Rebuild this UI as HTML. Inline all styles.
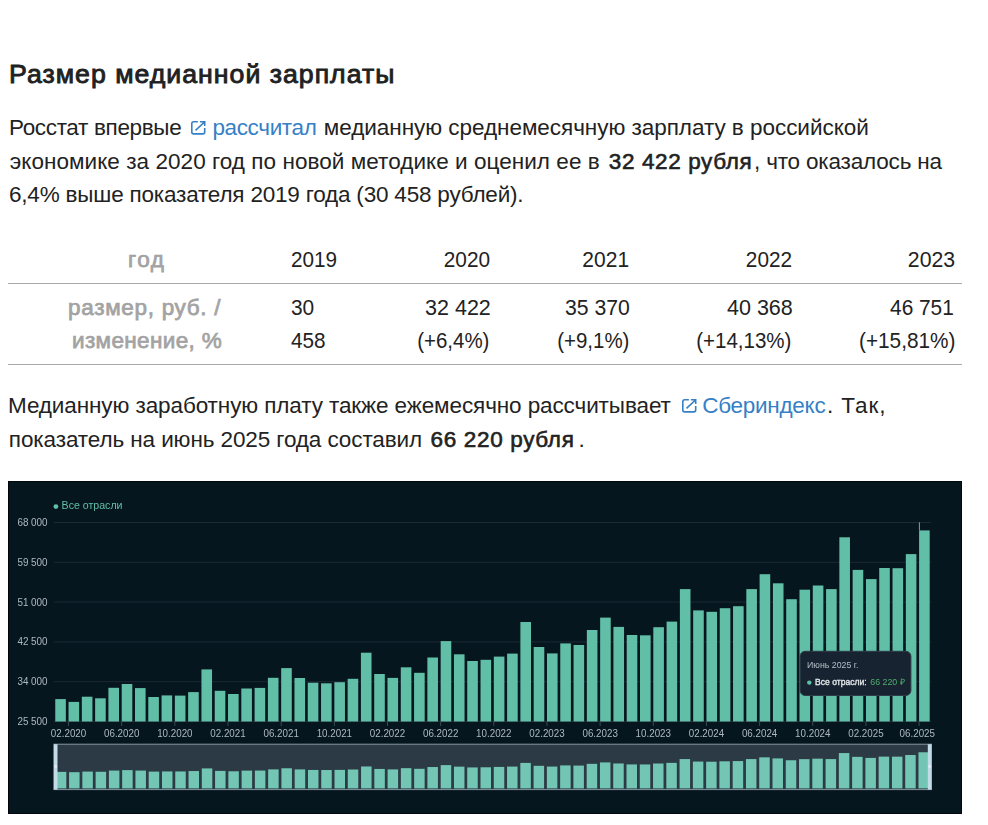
<!DOCTYPE html>
<html><head><meta charset="utf-8"><title>Размер медианной зарплаты</title>
<style>
html,body{margin:0;padding:0;background:#fff;}
body{width:988px;height:825px;position:relative;overflow:hidden;font-family:"Liberation Sans", sans-serif;}
.ln{position:absolute;white-space:nowrap;}
.a{color:#3580c6;}
.ext{display:inline-block;vertical-align:-0.3px;margin-right:6px;}
b{font-weight:normal;-webkit-text-stroke:0.6px #222;}
</style></head><body>
<div id="h" class="ln" style="left:9.00px;top:58.23px;font-size:26.7px;line-height:32.04px;font-weight:normal;color:#202122;letter-spacing:1.0px;-webkit-text-stroke:0.9px #202122;">Размер медианной зарплаты</div>
<div id="p1a" class="ln" style="left:9.00px;top:113.70px;font-size:22.5px;line-height:27.00px;font-weight:normal;color:#222;letter-spacing:-0.3421px;">Росстат впервые</div>
<div style="position:absolute;left:191.2px;top:121.1px;width:15px;height:14px;color:#3580c6"><svg style="display:block" width="15" height="14" viewBox="0 0 15 14"><path d="M6.9 0.8H2.6Q0.8 0.8 0.8 2.6V11.1Q0.8 12.9 2.6 12.9H11.9Q13.7 12.9 13.7 11.1V7.0M8.9 0.8H13.7V5.0M13.5 1.0L4.5 9.4" fill="none" stroke="currentColor" stroke-width="1.6"/></svg></div>
<div id="p1b" class="ln" style="left:212.40px;top:113.70px;font-size:22.5px;line-height:27.00px;font-weight:normal;color:#3580c6;letter-spacing:-0.35px;">рассчитал</div>
<div id="p1c" class="ln" style="left:323.80px;top:113.70px;font-size:22.5px;line-height:27.00px;font-weight:normal;color:#222;letter-spacing:-0.0404px;">медианную среднемесячную зарплату в российской</div>
<div id="p2a" class="ln" style="left:9.80px;top:148.00px;font-size:22.5px;line-height:27.00px;font-weight:normal;color:#222;letter-spacing:0.0503px;">экономике за 2020 год по новой методике и оценил ее в</div>
<div id="p2b" class="ln" style="left:608.80px;top:148.00px;font-size:22.5px;line-height:27.00px;font-weight:normal;color:#222;letter-spacing:0.6175px;"><b>32 422 рубля</b></div>
<div id="p2c" class="ln" style="left:754.00px;top:148.00px;font-size:22.5px;line-height:27.00px;font-weight:normal;color:#222;letter-spacing:-0.1765px;">, что оказалось на</div>
<div id="p3" class="ln" style="left:9.00px;top:180.70px;font-size:22.5px;line-height:27.00px;font-weight:normal;color:#222;letter-spacing:-0.1956px;">6,4% выше показателя 2019 года (30 458 рублей).</div>
<div id="t_god" class="ln" style="left:128.00px;top:245.70px;font-size:22.5px;line-height:27.00px;font-weight:normal;color:#a3a3a3;letter-spacing:1.5px;-webkit-text-stroke:0.75px #a3a3a3;">год</div>
<div id="t_2019" class="ln" style="left:291.00px;top:245.70px;font-size:22.5px;line-height:27.00px;font-weight:normal;color:#222;letter-spacing:0px;transform:scaleX(0.9188);transform-origin:0 50%;">2019</div>
<div id="t_2020" class="ln" style="right:498.10px;top:245.70px;font-size:22.5px;line-height:27.00px;font-weight:normal;color:#222;letter-spacing:0px;transform:scaleX(0.9248);transform-origin:100% 50%;">2020</div>
<div id="t_2021" class="ln" style="right:358.90px;top:245.70px;font-size:22.5px;line-height:27.00px;font-weight:normal;color:#222;letter-spacing:0px;transform:scaleX(0.9327);transform-origin:100% 50%;">2021</div>
<div id="t_2022" class="ln" style="right:195.50px;top:245.70px;font-size:22.5px;line-height:27.00px;font-weight:normal;color:#222;letter-spacing:0px;transform:scaleX(0.9228);transform-origin:100% 50%;">2022</div>
<div id="t_2023" class="ln" style="right:32.50px;top:245.70px;font-size:22.5px;line-height:27.00px;font-weight:normal;color:#222;letter-spacing:0px;transform:scaleX(0.9433);transform-origin:100% 50%;">2023</div>
<div style="position:absolute;left:8px;top:283px;width:954px;height:1px;background:#a8a8a8"></div>
<div id="t_l1" class="ln" style="left:68.00px;top:293.70px;font-size:22.5px;line-height:27.00px;font-weight:normal;color:#a3a3a3;letter-spacing:0.6926px;-webkit-text-stroke:0.75px #a3a3a3;">размер, руб. /</div>
<div id="t_l2" class="ln" style="left:72.00px;top:326.70px;font-size:22.5px;line-height:27.00px;font-weight:normal;color:#a3a3a3;letter-spacing:0.3629px;-webkit-text-stroke:0.75px #a3a3a3;">изменение, %</div>
<div id="t_a1" class="ln" style="left:291.00px;top:293.70px;font-size:22.5px;line-height:27.00px;font-weight:normal;color:#222;letter-spacing:0px;transform:scaleX(0.9277);transform-origin:0 50%;">30</div>
<div id="t_a2" class="ln" style="left:291.00px;top:326.70px;font-size:22.5px;line-height:27.00px;font-weight:normal;color:#222;letter-spacing:0px;transform:scaleX(0.9195);transform-origin:0 50%;">458</div>
<div id="c20a" class="ln" style="right:497.50px;top:293.70px;font-size:22.5px;line-height:27.00px;font-weight:normal;color:#222;letter-spacing:0px;transform:scaleX(0.9562);transform-origin:100% 50%;">32 422</div>
<div id="c20b" class="ln" style="right:498.50px;top:326.70px;font-size:22.5px;line-height:27.00px;font-weight:normal;color:#222;letter-spacing:0px;transform:scaleX(0.9096);transform-origin:100% 50%;">(+6,4%)</div>
<div id="c21a" class="ln" style="right:358.50px;top:293.70px;font-size:22.5px;line-height:27.00px;font-weight:normal;color:#222;letter-spacing:0px;transform:scaleX(0.9425);transform-origin:100% 50%;">35 370</div>
<div id="c21b" class="ln" style="right:358.50px;top:326.70px;font-size:22.5px;line-height:27.00px;font-weight:normal;color:#222;letter-spacing:0px;transform:scaleX(0.9101);transform-origin:100% 50%;">(+9,1%)</div>
<div id="c22a" class="ln" style="right:195.50px;top:293.70px;font-size:22.5px;line-height:27.00px;font-weight:normal;color:#222;letter-spacing:0px;transform:scaleX(0.9572);transform-origin:100% 50%;">40 368</div>
<div id="c22b" class="ln" style="right:196.50px;top:326.70px;font-size:22.5px;line-height:27.00px;font-weight:normal;color:#222;letter-spacing:0px;transform:scaleX(0.9122);transform-origin:100% 50%;">(+14,13%)</div>
<div id="c23a" class="ln" style="right:34.50px;top:293.70px;font-size:22.5px;line-height:27.00px;font-weight:normal;color:#222;letter-spacing:0px;transform:scaleX(0.9268);transform-origin:100% 50%;">46 751</div>
<div id="c23b" class="ln" style="right:32.50px;top:326.70px;font-size:22.5px;line-height:27.00px;font-weight:normal;color:#222;letter-spacing:0px;transform:scaleX(0.9235);transform-origin:100% 50%;">(+15,81%)</div>
<div style="position:absolute;left:8px;top:364px;width:954px;height:1px;background:#a8a8a8"></div>
<div id="q1a" class="ln" style="left:8.00px;top:391.90px;font-size:22.5px;line-height:27.00px;font-weight:normal;color:#222;letter-spacing:-0.1011px;">Медианную заработную плату также ежемесячно рассчитывает</div>
<div style="position:absolute;left:682.2px;top:399.1px;width:15px;height:14px;color:#3580c6"><svg style="display:block" width="15" height="14" viewBox="0 0 15 14"><path d="M6.9 0.8H2.6Q0.8 0.8 0.8 2.6V11.1Q0.8 12.9 2.6 12.9H11.9Q13.7 12.9 13.7 11.1V7.0M8.9 0.8H13.7V5.0M13.5 1.0L4.5 9.4" fill="none" stroke="currentColor" stroke-width="1.6"/></svg></div>
<div id="q1b" class="ln" style="left:702.20px;top:391.90px;font-size:22.5px;line-height:27.00px;font-weight:normal;color:#3580c6;letter-spacing:-0.2654px;">Сбериндекс</div>
<div id="q1c" class="ln" style="left:827.00px;top:391.90px;font-size:22.5px;line-height:27.00px;font-weight:normal;color:#222;letter-spacing:0.92px;">. Так,</div>
<div id="q2a" class="ln" style="left:8.80px;top:425.50px;font-size:22.5px;line-height:27.00px;font-weight:normal;color:#222;letter-spacing:-0.0995px;">показатель на июнь 2025 года составил</div>
<div id="q2b" class="ln" style="left:430.60px;top:425.50px;font-size:22.5px;line-height:27.00px;font-weight:normal;color:#222;letter-spacing:0.6541px;"><b>66 220 рубля</b></div>
<div id="q2c" class="ln" style="left:578.60px;top:425.50px;font-size:22.5px;line-height:27.00px;font-weight:normal;color:#222;letter-spacing:0px;">.</div>
<svg width="954" height="333" viewBox="8 481 954 333" style="position:absolute;left:8px;top:481px;display:block;will-change:transform">
<rect x="8" y="481" width="954" height="333" fill="#02070e"/>
<rect x="9" y="482" width="952" height="331" fill="#05161e"/>
<rect x="54" y="721.00" width="877" height="1" fill="#1c2a35"/>
<rect x="54" y="681.20" width="877" height="1" fill="#1c2a35"/>
<rect x="54" y="641.40" width="877" height="1" fill="#1c2a35"/>
<rect x="54" y="601.60" width="877" height="1" fill="#1c2a35"/>
<rect x="54" y="561.80" width="877" height="1" fill="#1c2a35"/>
<rect x="54" y="522.00" width="877" height="1" fill="#1c2a35"/>
<text x="47.6" y="725.00" text-anchor="end" font-family='"Liberation Sans", sans-serif' font-size="10.4" fill="#aeb8c1" textLength="30.2" lengthAdjust="spacingAndGlyphs">25 500</text>
<text x="47.6" y="685.20" text-anchor="end" font-family='"Liberation Sans", sans-serif' font-size="10.4" fill="#aeb8c1" textLength="30.2" lengthAdjust="spacingAndGlyphs">34 000</text>
<text x="47.6" y="645.40" text-anchor="end" font-family='"Liberation Sans", sans-serif' font-size="10.4" fill="#aeb8c1" textLength="30.2" lengthAdjust="spacingAndGlyphs">42 500</text>
<text x="47.6" y="605.60" text-anchor="end" font-family='"Liberation Sans", sans-serif' font-size="10.4" fill="#aeb8c1" textLength="30.2" lengthAdjust="spacingAndGlyphs">51 000</text>
<text x="47.6" y="565.80" text-anchor="end" font-family='"Liberation Sans", sans-serif' font-size="10.4" fill="#aeb8c1" textLength="30.2" lengthAdjust="spacingAndGlyphs">59 500</text>
<text x="47.6" y="526.00" text-anchor="end" font-family='"Liberation Sans", sans-serif' font-size="10.4" fill="#aeb8c1" textLength="30.2" lengthAdjust="spacingAndGlyphs">68 000</text>
<rect x="55.25" y="699.10" width="10.6" height="22.40" fill="#62bfa7"/>
<rect x="68.54" y="701.90" width="10.6" height="19.60" fill="#62bfa7"/>
<rect x="81.83" y="696.70" width="10.6" height="24.80" fill="#62bfa7"/>
<rect x="95.12" y="698.30" width="10.6" height="23.20" fill="#62bfa7"/>
<rect x="108.41" y="687.80" width="10.6" height="33.70" fill="#62bfa7"/>
<rect x="121.70" y="684.00" width="10.6" height="37.50" fill="#62bfa7"/>
<rect x="134.99" y="688.10" width="10.6" height="33.40" fill="#62bfa7"/>
<rect x="148.28" y="697.00" width="10.6" height="24.50" fill="#62bfa7"/>
<rect x="161.57" y="695.40" width="10.6" height="26.10" fill="#62bfa7"/>
<rect x="174.86" y="695.60" width="10.6" height="25.90" fill="#62bfa7"/>
<rect x="188.15" y="692.10" width="10.6" height="29.40" fill="#62bfa7"/>
<rect x="201.44" y="669.40" width="10.6" height="52.10" fill="#62bfa7"/>
<rect x="214.73" y="690.80" width="10.6" height="30.70" fill="#62bfa7"/>
<rect x="228.02" y="694.00" width="10.6" height="27.50" fill="#62bfa7"/>
<rect x="241.31" y="688.50" width="10.6" height="33.00" fill="#62bfa7"/>
<rect x="254.60" y="687.90" width="10.6" height="33.60" fill="#62bfa7"/>
<rect x="267.89" y="677.80" width="10.6" height="43.70" fill="#62bfa7"/>
<rect x="281.18" y="668.10" width="10.6" height="53.40" fill="#62bfa7"/>
<rect x="294.47" y="678.00" width="10.6" height="43.50" fill="#62bfa7"/>
<rect x="307.76" y="682.70" width="10.6" height="38.80" fill="#62bfa7"/>
<rect x="321.05" y="683.30" width="10.6" height="38.20" fill="#62bfa7"/>
<rect x="334.34" y="682.20" width="10.6" height="39.30" fill="#62bfa7"/>
<rect x="347.63" y="678.80" width="10.6" height="42.70" fill="#62bfa7"/>
<rect x="360.92" y="652.70" width="10.6" height="68.80" fill="#62bfa7"/>
<rect x="374.21" y="674.00" width="10.6" height="47.50" fill="#62bfa7"/>
<rect x="387.50" y="677.90" width="10.6" height="43.60" fill="#62bfa7"/>
<rect x="400.79" y="667.30" width="10.6" height="54.20" fill="#62bfa7"/>
<rect x="414.08" y="672.80" width="10.6" height="48.70" fill="#62bfa7"/>
<rect x="427.37" y="657.50" width="10.6" height="64.00" fill="#62bfa7"/>
<rect x="440.66" y="641.10" width="10.6" height="80.40" fill="#62bfa7"/>
<rect x="453.95" y="654.30" width="10.6" height="67.20" fill="#62bfa7"/>
<rect x="467.24" y="661.00" width="10.6" height="60.50" fill="#62bfa7"/>
<rect x="480.53" y="659.80" width="10.6" height="61.70" fill="#62bfa7"/>
<rect x="493.82" y="656.60" width="10.6" height="64.90" fill="#62bfa7"/>
<rect x="507.11" y="653.60" width="10.6" height="67.90" fill="#62bfa7"/>
<rect x="520.40" y="622.00" width="10.6" height="99.50" fill="#62bfa7"/>
<rect x="533.69" y="647.00" width="10.6" height="74.50" fill="#62bfa7"/>
<rect x="546.98" y="653.40" width="10.6" height="68.10" fill="#62bfa7"/>
<rect x="560.27" y="643.40" width="10.6" height="78.10" fill="#62bfa7"/>
<rect x="573.56" y="645.00" width="10.6" height="76.50" fill="#62bfa7"/>
<rect x="586.85" y="630.00" width="10.6" height="91.50" fill="#62bfa7"/>
<rect x="600.14" y="617.60" width="10.6" height="103.90" fill="#62bfa7"/>
<rect x="613.43" y="626.90" width="10.6" height="94.60" fill="#62bfa7"/>
<rect x="626.72" y="635.00" width="10.6" height="86.50" fill="#62bfa7"/>
<rect x="640.01" y="635.30" width="10.6" height="86.20" fill="#62bfa7"/>
<rect x="653.30" y="627.20" width="10.6" height="94.30" fill="#62bfa7"/>
<rect x="666.59" y="621.60" width="10.6" height="99.90" fill="#62bfa7"/>
<rect x="679.88" y="589.10" width="10.6" height="132.40" fill="#62bfa7"/>
<rect x="693.17" y="610.40" width="10.6" height="111.10" fill="#62bfa7"/>
<rect x="706.46" y="611.80" width="10.6" height="109.70" fill="#62bfa7"/>
<rect x="719.75" y="608.20" width="10.6" height="113.30" fill="#62bfa7"/>
<rect x="733.04" y="606.20" width="10.6" height="115.30" fill="#62bfa7"/>
<rect x="746.33" y="589.10" width="10.6" height="132.40" fill="#62bfa7"/>
<rect x="759.62" y="574.20" width="10.6" height="147.30" fill="#62bfa7"/>
<rect x="772.91" y="583.30" width="10.6" height="138.20" fill="#62bfa7"/>
<rect x="786.20" y="599.20" width="10.6" height="122.30" fill="#62bfa7"/>
<rect x="799.49" y="589.70" width="10.6" height="131.80" fill="#62bfa7"/>
<rect x="812.78" y="585.50" width="10.6" height="136.00" fill="#62bfa7"/>
<rect x="826.07" y="589.10" width="10.6" height="132.40" fill="#62bfa7"/>
<rect x="839.36" y="537.30" width="10.6" height="184.20" fill="#62bfa7"/>
<rect x="852.65" y="569.90" width="10.6" height="151.60" fill="#62bfa7"/>
<rect x="865.94" y="579.10" width="10.6" height="142.40" fill="#62bfa7"/>
<rect x="879.23" y="568.00" width="10.6" height="153.50" fill="#62bfa7"/>
<rect x="892.52" y="568.20" width="10.6" height="153.30" fill="#62bfa7"/>
<rect x="905.81" y="554.10" width="10.6" height="167.40" fill="#62bfa7"/>
<rect x="919.10" y="530.40" width="10.6" height="191.10" fill="#62bfa7"/>
<rect x="68.04" y="721.50" width="1" height="4.5" fill="#3a4a56"/>
<text x="68.54" y="736.8" text-anchor="middle" font-family='"Liberation Sans", sans-serif' font-size="10" fill="#aeb8c1" textLength="35.4" lengthAdjust="spacingAndGlyphs">02.2020</text>
<rect x="121.20" y="721.50" width="1" height="4.5" fill="#3a4a56"/>
<text x="121.70" y="736.8" text-anchor="middle" font-family='"Liberation Sans", sans-serif' font-size="10" fill="#aeb8c1" textLength="35.4" lengthAdjust="spacingAndGlyphs">06.2020</text>
<rect x="174.36" y="721.50" width="1" height="4.5" fill="#3a4a56"/>
<text x="174.86" y="736.8" text-anchor="middle" font-family='"Liberation Sans", sans-serif' font-size="10" fill="#aeb8c1" textLength="35.4" lengthAdjust="spacingAndGlyphs">10.2020</text>
<rect x="227.52" y="721.50" width="1" height="4.5" fill="#3a4a56"/>
<text x="228.02" y="736.8" text-anchor="middle" font-family='"Liberation Sans", sans-serif' font-size="10" fill="#aeb8c1" textLength="35.4" lengthAdjust="spacingAndGlyphs">02.2021</text>
<rect x="280.68" y="721.50" width="1" height="4.5" fill="#3a4a56"/>
<text x="281.18" y="736.8" text-anchor="middle" font-family='"Liberation Sans", sans-serif' font-size="10" fill="#aeb8c1" textLength="35.4" lengthAdjust="spacingAndGlyphs">06.2021</text>
<rect x="333.84" y="721.50" width="1" height="4.5" fill="#3a4a56"/>
<text x="334.34" y="736.8" text-anchor="middle" font-family='"Liberation Sans", sans-serif' font-size="10" fill="#aeb8c1" textLength="35.4" lengthAdjust="spacingAndGlyphs">10.2021</text>
<rect x="387.00" y="721.50" width="1" height="4.5" fill="#3a4a56"/>
<text x="387.50" y="736.8" text-anchor="middle" font-family='"Liberation Sans", sans-serif' font-size="10" fill="#aeb8c1" textLength="35.4" lengthAdjust="spacingAndGlyphs">02.2022</text>
<rect x="440.16" y="721.50" width="1" height="4.5" fill="#3a4a56"/>
<text x="440.66" y="736.8" text-anchor="middle" font-family='"Liberation Sans", sans-serif' font-size="10" fill="#aeb8c1" textLength="35.4" lengthAdjust="spacingAndGlyphs">06.2022</text>
<rect x="493.32" y="721.50" width="1" height="4.5" fill="#3a4a56"/>
<text x="493.82" y="736.8" text-anchor="middle" font-family='"Liberation Sans", sans-serif' font-size="10" fill="#aeb8c1" textLength="35.4" lengthAdjust="spacingAndGlyphs">10.2022</text>
<rect x="546.48" y="721.50" width="1" height="4.5" fill="#3a4a56"/>
<text x="546.98" y="736.8" text-anchor="middle" font-family='"Liberation Sans", sans-serif' font-size="10" fill="#aeb8c1" textLength="35.4" lengthAdjust="spacingAndGlyphs">02.2023</text>
<rect x="599.64" y="721.50" width="1" height="4.5" fill="#3a4a56"/>
<text x="600.14" y="736.8" text-anchor="middle" font-family='"Liberation Sans", sans-serif' font-size="10" fill="#aeb8c1" textLength="35.4" lengthAdjust="spacingAndGlyphs">06.2023</text>
<rect x="652.80" y="721.50" width="1" height="4.5" fill="#3a4a56"/>
<text x="653.30" y="736.8" text-anchor="middle" font-family='"Liberation Sans", sans-serif' font-size="10" fill="#aeb8c1" textLength="35.4" lengthAdjust="spacingAndGlyphs">10.2023</text>
<rect x="705.96" y="721.50" width="1" height="4.5" fill="#3a4a56"/>
<text x="706.46" y="736.8" text-anchor="middle" font-family='"Liberation Sans", sans-serif' font-size="10" fill="#aeb8c1" textLength="35.4" lengthAdjust="spacingAndGlyphs">02.2024</text>
<rect x="759.12" y="721.50" width="1" height="4.5" fill="#3a4a56"/>
<text x="759.62" y="736.8" text-anchor="middle" font-family='"Liberation Sans", sans-serif' font-size="10" fill="#aeb8c1" textLength="35.4" lengthAdjust="spacingAndGlyphs">06.2024</text>
<rect x="812.28" y="721.50" width="1" height="4.5" fill="#3a4a56"/>
<text x="812.78" y="736.8" text-anchor="middle" font-family='"Liberation Sans", sans-serif' font-size="10" fill="#aeb8c1" textLength="35.4" lengthAdjust="spacingAndGlyphs">10.2024</text>
<rect x="865.44" y="721.50" width="1" height="4.5" fill="#3a4a56"/>
<text x="865.94" y="736.8" text-anchor="middle" font-family='"Liberation Sans", sans-serif' font-size="10" fill="#aeb8c1" textLength="35.4" lengthAdjust="spacingAndGlyphs">02.2025</text>
<rect x="918.60" y="721.50" width="1" height="4.5" fill="#3a4a56"/>
<text x="917.30" y="736.8" text-anchor="middle" font-family='"Liberation Sans", sans-serif' font-size="10" fill="#aeb8c1" textLength="35.4" lengthAdjust="spacingAndGlyphs">06.2025</text>
<rect x="918.9" y="522.3" width="1" height="8.10" fill="#8d9aa5"/>
<circle cx="55.9" cy="506.6" r="2.4" fill="#62bfa7"/>
<text x="61.6" y="509.3" font-family='"Liberation Sans", sans-serif' font-size="10.6" fill="#62bfa7">Все отрасли</text>
<rect x="53.9" y="744.2" width="877.6" height="45.4" fill="#2b3a44" stroke="#8797a3" stroke-width="1"/>
<rect x="55.80" y="771.86" width="10.5" height="16.54" fill="#73c6b3"/>
<rect x="69.07" y="772.18" width="10.5" height="16.22" fill="#73c6b3"/>
<rect x="82.34" y="771.58" width="10.5" height="16.82" fill="#73c6b3"/>
<rect x="95.62" y="771.77" width="10.5" height="16.63" fill="#73c6b3"/>
<rect x="108.89" y="770.55" width="10.5" height="17.85" fill="#73c6b3"/>
<rect x="122.16" y="770.10" width="10.5" height="18.30" fill="#73c6b3"/>
<rect x="135.43" y="770.58" width="10.5" height="17.82" fill="#73c6b3"/>
<rect x="148.70" y="771.61" width="10.5" height="16.79" fill="#73c6b3"/>
<rect x="161.98" y="771.43" width="10.5" height="16.97" fill="#73c6b3"/>
<rect x="175.25" y="771.45" width="10.5" height="16.95" fill="#73c6b3"/>
<rect x="188.52" y="771.04" width="10.5" height="17.36" fill="#73c6b3"/>
<rect x="201.79" y="768.41" width="10.5" height="19.99" fill="#73c6b3"/>
<rect x="215.06" y="770.89" width="10.5" height="17.51" fill="#73c6b3"/>
<rect x="228.34" y="771.27" width="10.5" height="17.13" fill="#73c6b3"/>
<rect x="241.61" y="770.63" width="10.5" height="17.77" fill="#73c6b3"/>
<rect x="254.88" y="770.56" width="10.5" height="17.84" fill="#73c6b3"/>
<rect x="268.15" y="769.38" width="10.5" height="19.02" fill="#73c6b3"/>
<rect x="281.42" y="768.26" width="10.5" height="20.14" fill="#73c6b3"/>
<rect x="294.70" y="769.41" width="10.5" height="18.99" fill="#73c6b3"/>
<rect x="307.97" y="769.95" width="10.5" height="18.45" fill="#73c6b3"/>
<rect x="321.24" y="770.02" width="10.5" height="18.38" fill="#73c6b3"/>
<rect x="334.51" y="769.89" width="10.5" height="18.51" fill="#73c6b3"/>
<rect x="347.78" y="769.50" width="10.5" height="18.90" fill="#73c6b3"/>
<rect x="361.06" y="766.47" width="10.5" height="21.93" fill="#73c6b3"/>
<rect x="374.33" y="768.94" width="10.5" height="19.46" fill="#73c6b3"/>
<rect x="387.60" y="769.40" width="10.5" height="19.00" fill="#73c6b3"/>
<rect x="400.87" y="768.16" width="10.5" height="20.24" fill="#73c6b3"/>
<rect x="414.14" y="768.80" width="10.5" height="19.60" fill="#73c6b3"/>
<rect x="427.42" y="767.03" width="10.5" height="21.37" fill="#73c6b3"/>
<rect x="440.69" y="765.12" width="10.5" height="23.28" fill="#73c6b3"/>
<rect x="453.96" y="766.65" width="10.5" height="21.75" fill="#73c6b3"/>
<rect x="467.23" y="767.43" width="10.5" height="20.97" fill="#73c6b3"/>
<rect x="480.50" y="767.29" width="10.5" height="21.11" fill="#73c6b3"/>
<rect x="493.78" y="766.92" width="10.5" height="21.48" fill="#73c6b3"/>
<rect x="507.05" y="766.57" width="10.5" height="21.83" fill="#73c6b3"/>
<rect x="520.32" y="762.90" width="10.5" height="25.50" fill="#73c6b3"/>
<rect x="533.59" y="765.81" width="10.5" height="22.59" fill="#73c6b3"/>
<rect x="546.86" y="766.55" width="10.5" height="21.85" fill="#73c6b3"/>
<rect x="560.14" y="765.39" width="10.5" height="23.01" fill="#73c6b3"/>
<rect x="573.41" y="765.57" width="10.5" height="22.83" fill="#73c6b3"/>
<rect x="586.68" y="763.83" width="10.5" height="24.57" fill="#73c6b3"/>
<rect x="599.95" y="762.39" width="10.5" height="26.01" fill="#73c6b3"/>
<rect x="613.22" y="763.47" width="10.5" height="24.93" fill="#73c6b3"/>
<rect x="626.50" y="764.41" width="10.5" height="23.99" fill="#73c6b3"/>
<rect x="639.77" y="764.45" width="10.5" height="23.95" fill="#73c6b3"/>
<rect x="653.04" y="763.51" width="10.5" height="24.89" fill="#73c6b3"/>
<rect x="666.31" y="762.86" width="10.5" height="25.54" fill="#73c6b3"/>
<rect x="679.58" y="759.08" width="10.5" height="29.32" fill="#73c6b3"/>
<rect x="692.86" y="761.55" width="10.5" height="26.85" fill="#73c6b3"/>
<rect x="706.13" y="761.72" width="10.5" height="26.68" fill="#73c6b3"/>
<rect x="719.40" y="761.30" width="10.5" height="27.10" fill="#73c6b3"/>
<rect x="732.67" y="761.07" width="10.5" height="27.33" fill="#73c6b3"/>
<rect x="745.94" y="759.08" width="10.5" height="29.32" fill="#73c6b3"/>
<rect x="759.22" y="757.35" width="10.5" height="31.05" fill="#73c6b3"/>
<rect x="772.49" y="758.41" width="10.5" height="29.99" fill="#73c6b3"/>
<rect x="785.76" y="760.25" width="10.5" height="28.15" fill="#73c6b3"/>
<rect x="799.03" y="759.15" width="10.5" height="29.25" fill="#73c6b3"/>
<rect x="812.30" y="758.66" width="10.5" height="29.74" fill="#73c6b3"/>
<rect x="825.58" y="759.08" width="10.5" height="29.32" fill="#73c6b3"/>
<rect x="838.85" y="753.06" width="10.5" height="35.34" fill="#73c6b3"/>
<rect x="852.12" y="756.85" width="10.5" height="31.55" fill="#73c6b3"/>
<rect x="865.39" y="757.92" width="10.5" height="30.48" fill="#73c6b3"/>
<rect x="878.66" y="756.63" width="10.5" height="31.77" fill="#73c6b3"/>
<rect x="891.94" y="756.65" width="10.5" height="31.75" fill="#73c6b3"/>
<rect x="905.21" y="755.01" width="10.5" height="33.39" fill="#73c6b3"/>
<rect x="918.48" y="752.26" width="10.5" height="36.14" fill="#73c6b3"/>
<rect x="53.9" y="744.2" width="3.6" height="45.4" fill="#c3dae7"/>
<rect x="927.8" y="744.2" width="3.7" height="45.4" fill="#c3dae7"/>
<rect x="54.6" y="765.2" width="2.2" height="2.4" fill="#e6f0f5"/>
<rect x="928.6" y="765.2" width="2.2" height="2.4" fill="#e6f0f5"/>
<rect x="800.1" y="651.3" width="110.8" height="44.2" rx="5" fill="#172330" stroke="#2d3b47" stroke-width="1"/>
<text x="807" y="667.7" font-family='"Liberation Sans", sans-serif' font-size="8.8" fill="#b4bec7">Июнь 2025 г.</text>
<circle cx="809.3" cy="682.6" r="2.2" fill="#62bfa7"/>
<text x="815" y="685.4" font-family='"Liberation Sans", sans-serif' font-size="9" fill="#e3e7ea" stroke="#e3e7ea" stroke-width="0.35" textLength="51.6" lengthAdjust="spacingAndGlyphs">Все отрасли:</text>
<text x="870.3" y="685.4" font-family='"Liberation Sans", sans-serif' font-size="8.8" fill="#4fae6c">66 220 ₽</text>
</svg>
</body></html>
